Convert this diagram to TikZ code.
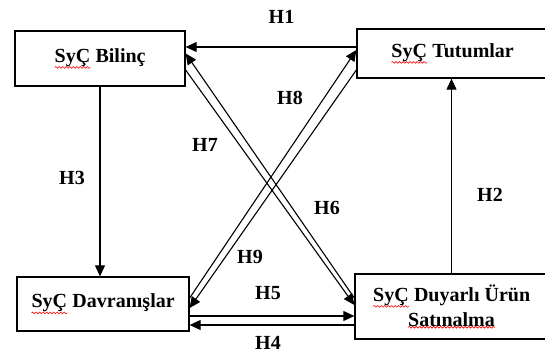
\documentclass[tikz,border=0pt]{standalone}
\usepackage{fontspec}
\setmainfont{Liberation Serif}
\usetikzlibrary{arrows.meta,decorations.pathmorphing}
\newcommand{\yanlis}[1]{\tikz[baseline=(w.base)]{\node[inner sep=0pt,outer sep=0pt,minimum size=0pt,draw=none] (w) {#1};
  \draw[red,line width=0.6pt,decorate,decoration={snake,amplitude=0.9pt,segment length=3.5pt}] ([yshift=-0.8pt]w.south west) -- ([yshift=-0.8pt]w.south east);}}

\begin{document}
\begin{tikzpicture}[x=1pt,y=-1pt,font=\fontsize{20}{25}\selectfont\bfseries]
                        \tikzstyle{kutu}=[draw,line width=1.3pt,align=center,inner sep=0pt]
                        \tikzstyle{ok}=[line width=1.1pt,-{Triangle[length=11pt,width=10pt]}]
                        \useasboundingbox (0,0) rectangle (545,358);
                        \node[kutu,minimum width=170pt,minimum height=55pt] (bilinc) at (100,58.5) {\yanlis{SyÇ} Bilinç};
                        \node[kutu,minimum width=191pt,minimum height=49pt] (tutum) at (452.5,53.5) {\yanlis{SyÇ} Tutumlar};
                        \node[kutu,minimum width=172pt,minimum height=54pt] (davran) at (103,304) {\yanlis{SyÇ} Davranışlar};
                        \node[kutu,minimum width=193pt,minimum height=65pt] (satin) at (451.5,306.5) {\yanlis{SyÇ} Duyarlı Ürün\\ \yanlis{Satınalma}};
                        % duz oklar
                        \draw[ok] ([yshift=6.5pt]tutum.west) -- ([yshift=6.5pt]tutum.west -| bilinc.east);
                        \draw[ok] (bilinc.south) -- (bilinc.south |- davran.north);
                        \draw[ok] (satin.north) -- (satin.north |- tutum.south);
                        \draw[ok] ([yshift=-12pt]davran.east) -- ([yshift=-12pt]davran.east -| satin.west);
                        \draw[ok] ([yshift=-18.5pt]satin.west) -- ([yshift=-18.5pt]satin.west -| davran.east);
                        % capraz oklar
                        \draw[ok] ([yshift=8.5pt]satin.west) -- ([yshift=5pt]bilinc.east);
                        \draw[ok] ([yshift=-11.5pt]bilinc.east) -- ([yshift=1.5pt]satin.west);
                        \draw[ok] ([yshift=6pt]davran.east) -- ([yshift=3.5pt]tutum.west);
                        \draw[ok] ([yshift=-16.5pt]tutum.west) -- ([yshift=-4pt]davran.east);
                        % etiketler
                        \node (h1) at (281.5,17) {H1};
                        \node (h2) at (490,195) {H2};
                        \node (h3) at (72,178) {H3};
                        \node (h4) at (268,343) {H4};
                        \node (h5) at (268,293) {H5};
                        \node (h6) at (327,208) {H6};
                        \node (h7) at (205,145) {H7};
                        \node (h8) at (290,98) {H8};
                        \node (h9) at (250,257) {H9};
                    \end{tikzpicture}
\end{document}
